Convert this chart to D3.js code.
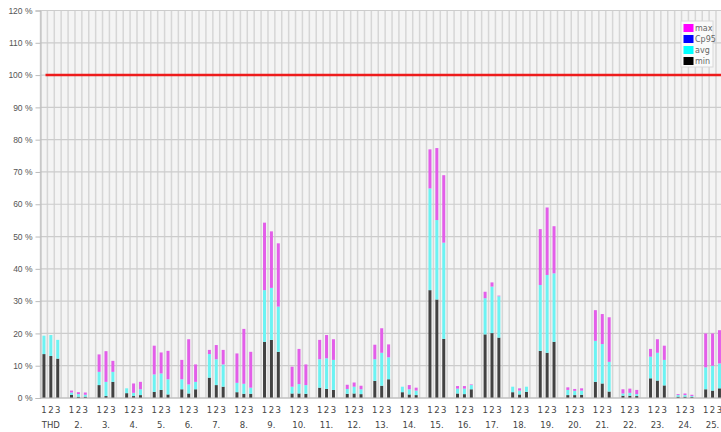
<!DOCTYPE html>
<html>
<head>
<meta charset="utf-8">
<script src="https://cdn.jsdelivr.net/npm/d3@7"></script>
<style>
  body { margin: 0; background: #fff; overflow: hidden; }
  svg { display: block; font-family: Verdana, "DejaVu Sans", sans-serif; }
</style>
</head>
<body>
<svg id="chart" width="721" height="432"></svg>
<script>
var categories = ["THD", "2.", "3.", "4.", "5.", "6.", "7.", "8.", "9.", "10.", "11.", "12.", "13.",
                  "14.", "15.", "16.", "17.", "18.", "19.", "20.", "21.", "22.", "23.", "24.", "25."];
var phases = ["1", "2", "3"];

var minVals = [
  [13.6, 13.0, 12.2], [1.0, 0.4, 0.4], [4.0, 0.6, 5.0], [1.5, 0.6, 0.9], [1.9, 2.5, 1.1],
  [2.7, 1.4, 2.7], [6.3, 4.0, 3.5], [1.8, 1.3, 1.3], [17.4, 18.0, 14.3], [1.4, 1.4, 1.3],
  [3.2, 2.8, 2.5], [1.3, 1.4, 1.2], [5.3, 3.8, 5.8], [1.8, 1.1, 0.9], [33.4, 30.5, 18.3],
  [1.4, 1.2, 2.7], [19.7, 20.1, 18.7], [1.8, 1.1, 1.9], [14.6, 14.0, 17.4], [0.9, 0.9, 1.0],
  [5.0, 4.5, 2.0], [0.7, 0.7, 0.6], [6.1, 5.4, 3.9], [0.4, 0.4, 0.3], [2.7, 2.3, 3.0]
];
var avgVals = [
  [19.3, 19.5, 18.0], [1.7, 1.2, 1.0], [8.1, 5.0, 8.1], [3.0, 1.6, 2.7], [7.3, 7.6, 5.8],
  [5.8, 4.2, 5.0], [13.6, 12.0, 10.4], [4.7, 4.4, 3.2], [33.4, 34.1, 28.3], [3.5, 4.3, 4.0],
  [12.0, 12.3, 11.8], [2.8, 3.5, 2.7], [12.0, 14.0, 12.6], [3.5, 2.7, 2.3], [64.9, 55.1, 48.1],
  [2.9, 2.9, 4.0], [30.9, 34.5, 31.5], [3.5, 2.3, 3.5], [35.0, 38.1, 38.6], [2.5, 2.2, 2.3],
  [17.7, 16.7, 11.2], [1.4, 1.6, 1.2], [12.8, 14.0, 11.8], [0.9, 0.9, 0.6], [9.5, 10.0, 10.7]
];
var maxVals = [
  [19.3, 19.5, 18.0], [2.3, 1.8, 1.7], [13.5, 14.5, 11.5], [3.0, 4.5, 5.0], [16.2, 14.1, 14.6],
  [11.8, 18.2, 10.4], [14.9, 16.4, 14.9], [13.8, 21.4, 14.3], [54.3, 51.6, 47.9], [9.7, 15.2, 10.4],
  [18.0, 19.5, 18.2], [4.1, 4.8, 3.8], [16.5, 21.6, 16.6], [3.5, 4.0, 3.2], [77.0, 77.4, 69.0],
  [3.7, 3.7, 4.2], [32.9, 35.8, 31.7], [3.5, 3.0, 3.5], [52.3, 59.0, 53.2], [3.3, 2.8, 3.0],
  [27.2, 26.0, 25.0], [2.7, 2.9, 2.5], [15.2, 18.2, 16.2], [1.2, 1.4, 1.0], [20.0, 20.0, 21.0]
];
var yTicks = [0, 10, 20, 30, 40, 50, 60, 70, 80, 90, 100, 110, 120];
var limit = 100;
var legendItems = ["max", "Cp95", "avg", "min"];
var legendColors = ["#ff00ff", "#0000ff", "#00ffff", "#000000"];

var svg = d3.select("svg#chart");
var width = 721;
var plotLeft = 40.5, plotRight = 729.8, plotTop = 10.5, plotBottom = 398;

var x = d3.scaleBand().domain(categories).range([plotLeft, plotRight]);
var slot = d3.scaleBand().domain([0, 1, 2, 3]).range([0, x.bandwidth()]);
var y = d3.scaleLinear().domain([0, 120]).range([plotBottom, plotTop]);

// plot background
svg.append("rect")
   .attr("x", plotLeft).attr("y", plotTop)
   .attr("width", width - plotLeft).attr("height", plotBottom - plotTop)
   .attr("fill", "#f4f4f4");

// vertical grid, one line per slot
var slotEdges = [];
categories.forEach(function(c) {
  [0, 1, 2, 3].forEach(function(s) { slotEdges.push(x(c) + slot(s)); });
});
svg.append("g").selectAll("line")
   .data(slotEdges)
   .enter().append("line")
   .attr("x1", function(d) { return d; }).attr("x2", function(d) { return d; })
   .attr("y1", plotTop).attr("y2", plotBottom)
   .style("stroke", "#d6d6d6")
   .style("stroke-width", 1.5);

// horizontal grid
svg.append("g").selectAll("line")
   .data(yTicks)
   .enter().append("line")
   .attr("x1", plotLeft).attr("x2", width)
   .attr("y1", function(d) { return y(d); }).attr("y2", function(d) { return y(d); })
   .style("stroke", "#cccccc")
   .style("stroke-width", 1.2);

// y axis
var yAxis = svg.append("g")
   .attr("transform", "translate(" + plotLeft + ",0)")
   .call(d3.axisLeft(y).tickValues(yTicks).tickSize(5).tickPadding(3)
           .tickFormat(function(d) { return d + " %"; }));
yAxis.select(".domain").attr("stroke", "#bbbbbb");
yAxis.selectAll(".tick line").attr("stroke", "#bbbbbb");
yAxis.selectAll("text").attr("fill", "#555").style("font-size", "8.5px");

// bars: min / avg / max stacked
var barW = 3;
var segColors = { min: "#424242", avg: "#6cf3f3", max: "#e35ee9" };
var bars = [];
categories.forEach(function(c, i) {
  phases.forEach(function(p, j) {
    var cx = x(c) + slot(j) + slot.bandwidth() / 2;
    bars.push({ cx: cx, y0: 0, y1: minVals[i][j], color: segColors.min });
    bars.push({ cx: cx, y0: minVals[i][j], y1: avgVals[i][j], color: segColors.avg });
    bars.push({ cx: cx, y0: avgVals[i][j], y1: maxVals[i][j], color: segColors.max });
  });
});
svg.append("g").selectAll("rect")
   .data(bars.filter(function(d) { return d.y1 > d.y0; }))
   .enter().append("rect")
   .attr("x", function(d) { return d.cx - barW / 2; })
   .attr("width", barW)
   .attr("y", function(d) { return y(d.y1); })
   .attr("height", function(d) { return y(d.y0) - y(d.y1); })
   .attr("fill", function(d) { return d.color; });

// bottom axis line
svg.append("line")
   .attr("x1", plotLeft).attr("x2", width)
   .attr("y1", plotBottom).attr("y2", plotBottom)
   .style("stroke", "#bbbbbb").style("stroke-width", 1);

// limit line at 100 %
svg.append("line")
   .attr("x1", plotLeft + 5).attr("x2", width)
   .attr("y1", y(limit)).attr("y2", y(limit))
   .style("stroke", "#ee1c1c")
   .style("stroke-width", 2.5);

// x labels: phase numbers and category names
var xl = svg.append("g").attr("fill", "#444").style("font-size", "8.5px");
categories.forEach(function(c, i) {
  phases.forEach(function(p, j) {
    xl.append("text")
      .attr("x", x(c) + slot(j) + slot.bandwidth() / 2)
      .attr("y", 413)
      .attr("text-anchor", "middle")
      .text(p);
  });
  xl.append("text")
    .attr("x", x(c) + slot(1) + slot.bandwidth() / 2)
    .attr("y", 428)
    .attr("text-anchor", "middle")
    .text(c);
});

// legend
var lg = svg.append("g").attr("transform", "translate(681,21)");
lg.append("rect")
  .attr("width", 32).attr("height", 46)
  .attr("fill", "#fafafa").attr("stroke", "#d8d8d8");
legendItems.forEach(function(name, k) {
  lg.append("rect")
    .attr("x", 2.5).attr("y", 3 + k * 11)
    .attr("width", 10).attr("height", 8)
    .attr("fill", legendColors[k]);
  lg.append("text")
    .attr("x", 14).attr("y", 10 + k * 11)
    .attr("fill", "#666")
    .style("font-size", "8px")
    .text(name);
});
</script>
</body>
</html>
